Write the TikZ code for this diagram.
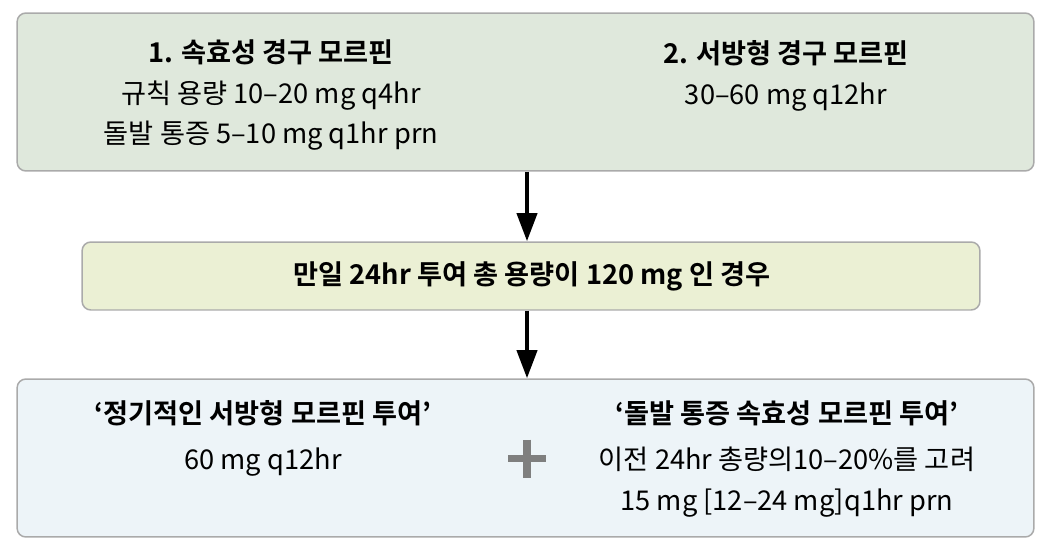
\documentclass[tikz,border=0pt]{standalone}
\usepackage{fontspec}
\setmainfont{Noto Sans CJK KR}[BoldFont={Noto Sans CJK KR Bold}]
\usepackage{tikz}
\usetikzlibrary{arrows.meta,calc,positioning}
\definecolor{boxline}{HTML}{AAAAAA}
\definecolor{topfill}{HTML}{DFE8DC}
\definecolor{midfill}{HTML}{EBF0D4}
\definecolor{botfill}{HTML}{EDF4F8}
\definecolor{plusgray}{HTML}{7F7F7F}

\begin{document}
\begin{tikzpicture}[x=0.02cm,y=-0.02cm,
	every node/.style={font=\fontsize{15.5}{23}\selectfont},
	panel/.style={draw=boxline,line width=0.85pt,rounded corners=5pt,inner sep=0pt},
	txt/.style={align=center,inner sep=0pt},
	flow/.style={-{Triangle[length=16pt,width=11.4pt]},line width=2.3pt}]
	
	\useasboundingbox (0,0) rectangle (1048,548);
	
	% the three panels, top to bottom
	\node (top) at (525.5,92) [panel,fill=topfill,minimum width=20.34cm,minimum height=3.16cm] {};
	\node (mid) at (531,276) [panel,fill=midfill,minimum width=17.96cm,minimum height=1.36cm] {};
	\node (bot) at (525.5,458) [panel,fill=botfill,minimum width=20.34cm,minimum height=3.16cm] {};
	
	% texts of the top panel
	\node (ir) at (271,95) [txt] {\textbf{1. 속효성 경구 모르핀}\\
		규칙 용량 10–20 mg q4hr\\
		돌발 통증 5–10 mg q1hr prn};
	\node (sr) at (786,76) [txt] {\textbf{2. 서방형 경구 모르핀}\\
		30–60 mg q12hr};
	
	% condition
	\node (cond) at (532,276) [txt] {\textbf{만일 24hr 투여 총 용량이 120 mg 인 경우}};
	
	% texts of the bottom panel
	\node (regular) at (263,438.5) [txt] {\textbf{‘정기적인 서방형 모르핀 투여’}\\[3pt]
		60 mg q12hr};
	\node (rescue) at (787,459) [txt] {\textbf{‘돌발 통증 속효성 모르핀 투여’}\\[3pt]
		이전 24hr 총량의10–20\%를 고려\\
		15 mg [12–24 mg]q1hr prn};
	
	% plus sign
	\coordinate (plus) at (527,458.5);
	\draw[plusgray,line width=4pt] ($(plus)+(-19,0)$) -- ($(plus)+(19,0)$);
	\draw[plusgray,line width=4pt] ($(plus)+(0,-19)$) -- ($(plus)+(0,19)$);
	
	% arrows
	\draw[flow] (top.south -| plus) -- (mid.north -| plus);
	\draw[flow] (mid.south -| plus) -- (bot.north -| plus);
	
\end{tikzpicture}
\end{document}
